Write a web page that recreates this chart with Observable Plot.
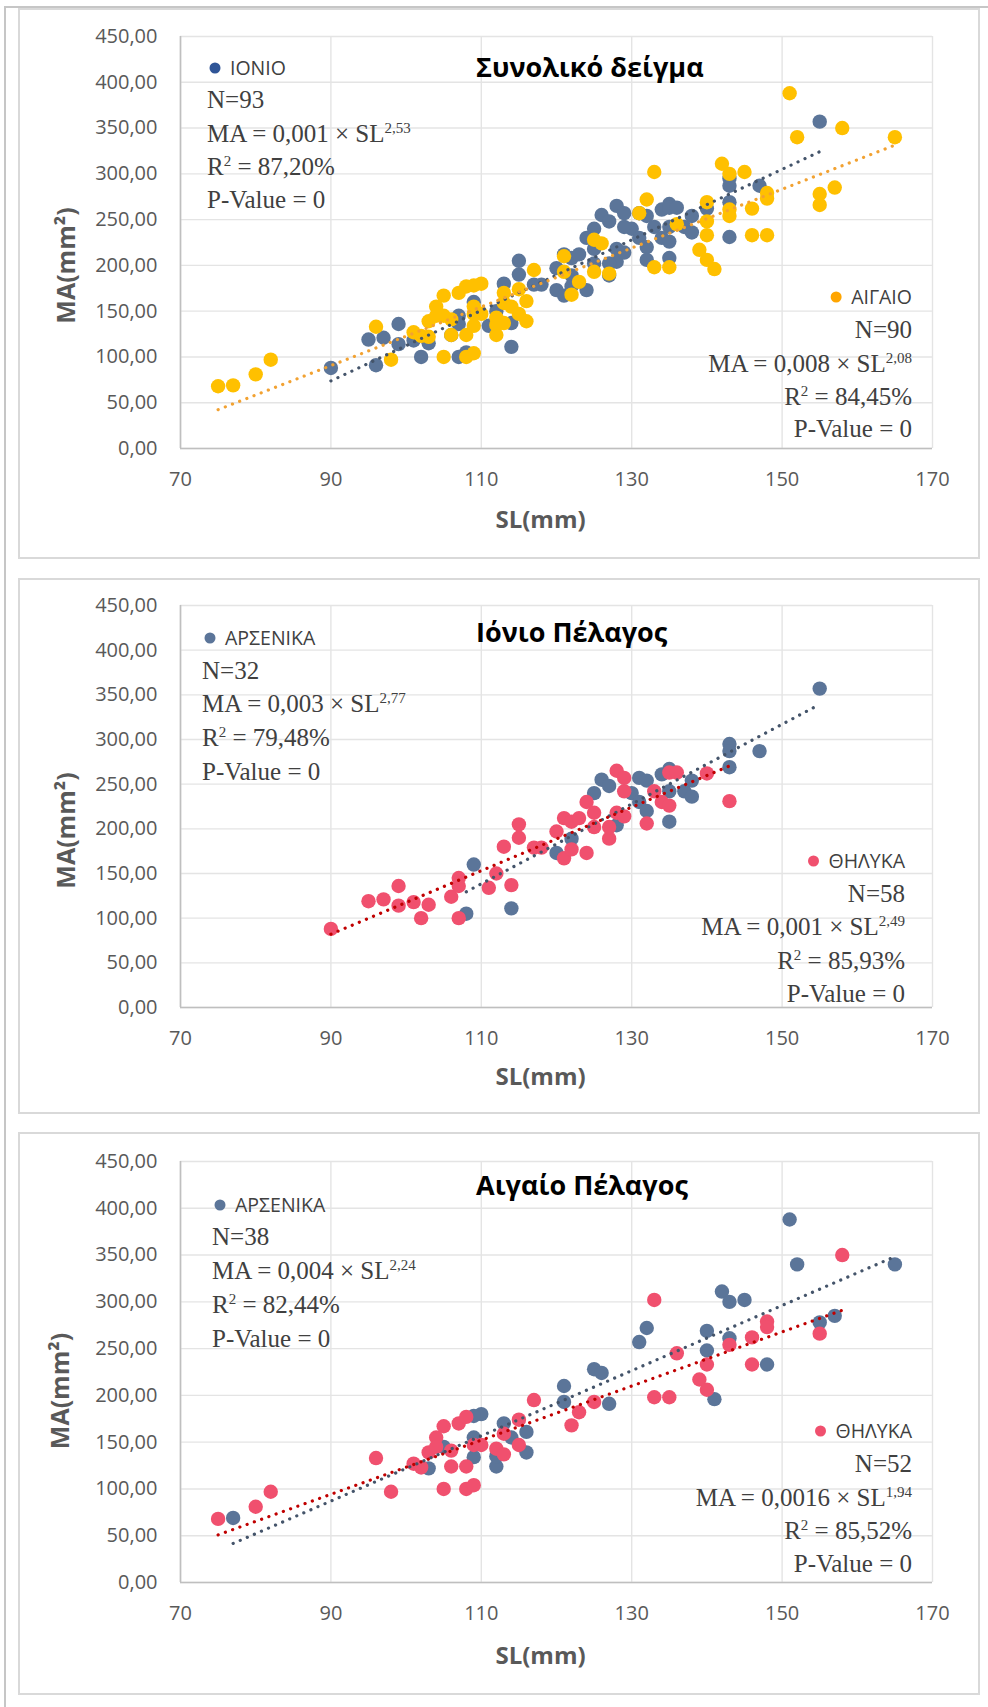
<!DOCTYPE html>
<html><head><meta charset="utf-8">
<script src="https://cdn.jsdelivr.net/npm/d3@7"></script>
<script src="https://cdn.jsdelivr.net/npm/@observablehq/plot@0.6"></script>
<style>
body{margin:0;background:#fff;}
#wrap{position:relative;width:988px;height:1707px;overflow:hidden;}
.outer{position:absolute;left:4px;top:6px;width:1000px;height:1720px;border-left:2px solid #c6c6c6;border-top:2px solid #c6c6c6;}
.frame{position:absolute;box-sizing:border-box;border:2px solid #d9d9d9;left:18px;width:962px;}
.chart{position:absolute;left:0;width:988px;}
</style></head>
<body><div id="wrap">
<div class="outer"></div>
<div class="frame" style="top:8px;height:551px"></div>
<div class="frame" style="top:578px;height:536px"></div>
<div class="frame" style="top:1132px;height:563px"></div>
<div class="chart" id="c1" style="top:9px"></div>
<div class="chart" id="c2" style="top:579px"></div>
<div class="chart" id="c3" style="top:1133px"></div>
</div>
<script>
// ---------- data: [SL(mm), MA(mm²)] ----------
const ionianMales = [[108,105],[109,160],[114,111],[120,173],[122,189],[125,240],[126,255],[127,248],[128,204],[130,240],[131,257],[131,230],[132,254],[132,220],[134,261],[135,267],[135,208],[135,242],[137,242],[138,236],[138,254],[143,295],[143,287],[143,269],[147,287],[155,357]];
const ionianFemales = [[90,88],[95,119],[97,121],[99,136],[99,114],[101,118],[102,100],[103,115],[106,124],[107,145],[107,136],[107,100],[111,134],[112,150],[113,180],[114,137],[115,205],[115,190],[117,179],[118,179],[120,197],[121,212],[121,167],[122,177],[122,208],[123,212],[124,173],[124,230],[125,218],[125,202],[127,189],[127,202],[128,265],[128,218],[129,257],[129,242],[129,214],[132,206],[133,242],[134,230],[135,263],[135,226],[136,263],[140,262],[143,231]];
const ionianUnsexed = [[96,91]];
const aegeanMales = [[77,69],[103,122],[105,145],[109,155],[109,134],[110,180],[109,178],[112,124],[112,135],[113,170],[114,155],[116,161],[116,139],[121,210],[121,193],[125,228],[126,224],[127,191],[131,257],[132,272],[140,269],[140,248],[141,196],[142,311],[143,300],[143,261],[145,302],[148,233],[151,388],[152,340],[155,278],[157,285],[165,340]];
const aegeanFemales = [[75,68],[80,81],[82,97],[96,133],[98,97],[101,127],[102,123],[103,139],[104,155],[104,145],[105,167],[105,100],[106,124],[106,141],[107,170],[108,177],[108,124],[108,100],[109,104],[109,147],[110,147],[112,143],[113,137],[113,159],[115,174],[115,147],[117,195],[122,168],[123,182],[125,193],[133,302],[133,198],[135,198],[136,245],[139,217],[140,206],[140,233],[143,254],[146,262],[146,233],[148,279],[148,273],[155,266],[158,350]];

const xTicks = [70, 90, 110, 130, 150, 170];
const yTicks = [0, 50, 100, 150, 200, 250, 300, 350, 400, 450];
const titles = ["Συνολικό δείγμα", "Ιόνιο Πέλαγος", "Αιγαίο Πέλαγος"];
const xLabel = "SL(mm)", yLabel = "MA(mm²)";
// stats text: [legend label, N, coefficient, exponent, R²]
const statIonio   = ["IONIO", "N=93", "0,001", "2,53", "87,20%"];
const statAegean  = ["ΑΙΓΑΙΟ", "N=90", "0,008", "2,08", "84,45%"];
const statIonM    = ["ΑΡΣΕΝΙΚΑ", "N=32", "0,003", "2,77", "79,48%"];
const statIonF    = ["ΘΗΛΥΚΑ", "N=58", "0,001", "2,49", "85,93%"];
const statAegM    = ["ΑΡΣΕΝΙΚΑ", "N=38", "0,004", "2,24", "82,44%"];
const statAegF    = ["ΘΗΛΥΚΑ", "N=52", "0,0016", "1,94", "85,52%"];

const cBlue = "#5B7599", cYellow = "#FFC000", cPink = "#F0506E";
const tBlue = "#44546A", tOrange = "#F2A232", tRed = "#C00000";
const SANS = "Open Sans";

const fmtY = d => d3.format(".2f")(d).replace(".", ",");

function panel(el, o) {
  const marks = [
    Plot.gridX(xTicks, {stroke: "#e4e4e4", strokeOpacity: 1, strokeWidth: 1.4}),
    Plot.gridY(yTicks, {stroke: "#e4e4e4", strokeOpacity: 1, strokeWidth: 1.4}),
    Plot.ruleX([70], {stroke: "#bfbfbf", strokeWidth: 1.6}),
    Plot.ruleY([0], {stroke: "#bfbfbf", strokeWidth: 1.6}),
    Plot.axisY(yTicks, {tickSize: 0, tickPadding: 23, tickFormat: fmtY, fill: "#595959", fontSize: 20, label: null}),
    Plot.axisX(xTicks, {tickSize: 0, tickPadding: 23, fill: "#595959", fontSize: 20, label: null}),
  ];
  for (const s of o.series) marks.push(Plot.dot(s.data, {x: d => d[0], y: d => d[1], r: 7.2, fill: s.color, stroke: "none"}));
  for (const s of o.series) marks.push(Plot.linearRegressionY(s.data, {x: d => d[0], y: d => d[1], ci: 0, stroke: s.trend, strokeWidth: 3.2, strokeDasharray: "0.1 7.6", strokeLinecap: "round"}));
  marks.push(Plot.text([xLabel], {text: d => d, frameAnchor: "bottom", textAnchor: "middle", lineAnchor: "middle", dx: -16, dy: o.xLabDy, fontWeight: "bold", fontSize: 24, fill: "#595959"}));
  marks.push(Plot.text([yLabel], {text: d => d, frameAnchor: "left", textAnchor: "middle", lineAnchor: "middle", rotate: -90, dx: o.yLabDx, dy: o.yLabDy, fontWeight: "bold", fontSize: 25, fill: "#595959"}));
  const svg = Plot.plot({
    width: 988, height: o.height, marginLeft: 180, marginRight: 56, marginTop: o.mt, marginBottom: o.mb,
    style: {background: "transparent", fontFamily: SANS, overflow: "visible"},
    x: {domain: [70, 170]}, y: {domain: [0, 450]},
    marks
  });
  document.getElementById(el).appendChild(svg);
  const g = d3.select(svg).append("g").attr("text-anchor", "start");
  const top = o.top;
  g.append("text").attr("x", 476).attr("y", o.titleY - top).attr("text-anchor", "start").attr("font-family", SANS).attr("font-weight", "bold")
    .attr("font-size", 27).attr("fill", "#000").text(o.title);
  for (const b of o.blocks) {
    const st = b.stat, right = b.align === "end";
    const lines = [
      [[st[1]]],
      [["MA = " + st[2] + " × SL"], [st[3], "sup"]],
      [["R"], ["2", "sup"], [" = " + st[4]]],
      [["P-Value = 0"]]
    ];
    lines.forEach((parts, i) => {
      const t = g.append("text").attr("x", b.x).attr("y", b.base[i] - top)
        .attr("text-anchor", right ? "end" : "start")
        .attr("font-family", "Liberation Serif").attr("font-size", 25).attr("fill", "#404040");
      let up = false;
      for (const [txt, kind] of parts) {
        const ts = t.append("tspan").text(txt);
        if (kind === "sup") { ts.attr("font-size", 15).attr("dy", -9); up = true; }
        else if (up) { ts.attr("dy", 9); up = false; }
      }
    });
    const lt = g.append("text").attr("y", b.legY - top).attr("dy", "0.35em").attr("font-family", SANS)
      .attr("font-size", 19.5).attr("fill", "#404040").text(st[0]);
    let tx;
    if (right) { lt.attr("x", b.x).attr("text-anchor", "end"); tx = b.x - lt.node().getComputedTextLength(); }
    else { tx = b.legX; lt.attr("x", tx).attr("text-anchor", "start"); }
    g.append("circle").attr("cx", tx - 15).attr("cy", b.legY - top).attr("r", 5.5).attr("fill", b.dot);
  }
}

panel("c1", {top: 9, height: 549, mt: 27, mb: 110, xLabDy: 72, yLabDx: -114, yLabDy: 23, title: titles[0], titleY: 77,
  series: [
    {data: ionianMales.concat(ionianFemales, ionianUnsexed), color: cBlue, trend: tBlue},
    {data: aegeanMales.concat(aegeanFemales), color: cYellow, trend: tOrange}
  ],
  blocks: [
    {stat: statIonio, x: 207, base: [108, 141.5, 175, 208], legX: 230, legY: 68, dot: "#2F5597"},
    {stat: statAegean, align: "end", x: 912, base: [338, 372, 405, 437], legY: 297, dot: "#FFA500"}
  ]});
panel("c2", {top: 579, height: 534, mt: 26, mb: 106, xLabDy: 70, yLabDx: -114, yLabDy: 24, title: titles[1], titleY: 642,
  series: [
    {data: ionianMales, color: cBlue, trend: tBlue},
    {data: ionianFemales, color: cPink, trend: tRed}
  ],
  blocks: [
    {stat: statIonM, x: 202, base: [679, 712, 746, 780], legX: 225, legY: 638, dot: cBlue},
    {stat: statIonF, align: "end", x: 905, base: [901.5, 935, 969, 1002], legY: 861, dot: cPink}
  ]});
panel("c3", {top: 1133, height: 561, mt: 28, mb: 112, xLabDy: 74, yLabDx: -120, yLabDy: 19, title: titles[2], titleY: 1195,
  series: [
    {data: aegeanMales, color: cBlue, trend: tBlue},
    {data: aegeanFemales, color: cPink, trend: tRed}
  ],
  blocks: [
    {stat: statAegM, x: 212, base: [1245, 1279, 1313, 1347], legX: 235, legY: 1205, dot: cBlue},
    {stat: statAegF, align: "end", x: 912, base: [1471.5, 1506, 1539, 1572], legY: 1431, dot: cPink}
  ]});
</script>
</body></html>
